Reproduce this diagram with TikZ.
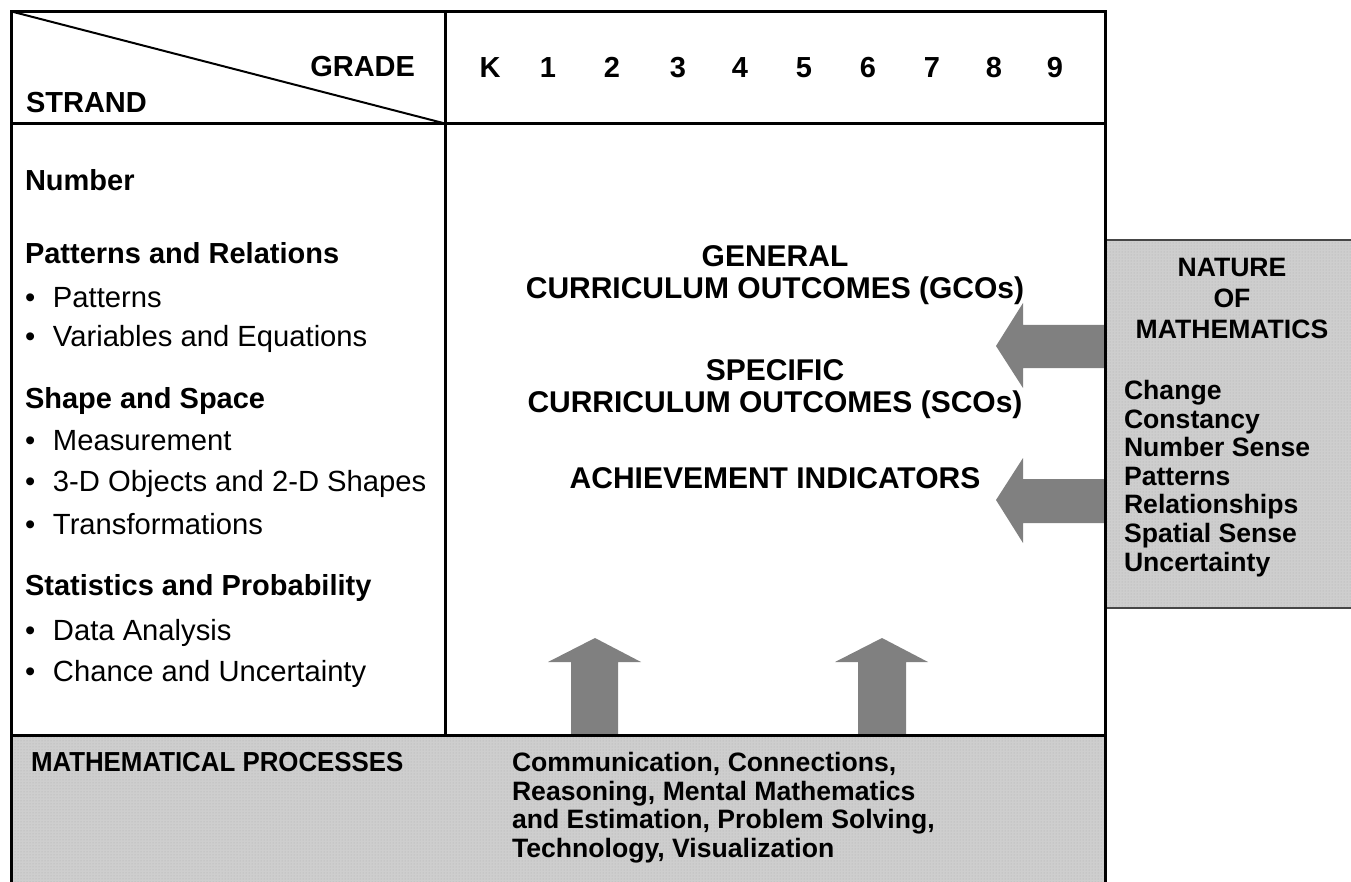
\documentclass[tikz,border=0pt]{standalone}
\usepackage{fontspec}
\setmainfont{Liberation Sans}
\usetikzlibrary{patterns}
\definecolor{boxgray}{RGB}{206,206,206}
\definecolor{dotgray}{RGB}{175,175,175}
\definecolor{arrowgray}{RGB}{128,128,128}
\definecolor{edgegray}{RGB}{70,70,70}
\newcommand\hdfont{\fontsize{29}{34}\selectfont\bfseries}
\newcommand\bulfont{\fontsize{29.2}{34}\selectfont}
\newcommand\ctrfont{\fontsize{30}{34}\selectfont\bfseries}
\newcommand\natfont{\fontsize{26.6}{30}\selectfont\bfseries}
\newcommand\botfont{\fontsize{26.6}{30}\selectfont\bfseries}
\begin{document}
\begin{tikzpicture}[x=1pt,y=-1pt,
  tbl/.style={line width=3pt, black, line join=miter},
  txt/.style={inner sep=0pt, outer sep=0pt, anchor=base west},
  ctxt/.style={inner sep=0pt, outer sep=0pt, anchor=base},
  head/.style={txt, font=\hdfont},
  bul/.style={txt, font=\bulfont},
  ctr/.style={ctxt, font=\ctrfont},
  grd/.style={ctxt, font=\hdfont},
  nat/.style={ctxt, font=\natfont},
  natw/.style={txt, font=\natfont},
  bot/.style={txt, font=\botfont},
  panel/.style={fill=boxgray, postaction={pattern=dots, pattern color=dotgray}},
  blockarrow/.style={fill=arrowgray, draw=none}]
\useasboundingbox (0,0) rectangle (1351,882);

% grey panels
\path[panel] (1105,240) rectangle (1351,608);
\draw[line width=2pt, edgegray] (1105,240) -- (1351,240) (1105,608) -- (1351,608);
\path[panel] (10,735) rectangle (1105,882);

% block arrows
\coordinate (la1) at (996,346);
\coordinate (la2) at (996,500);
\coordinate (ua1) at (595,638);
\coordinate (ua2) at (882,638);
\fill[blockarrow] (la1) -- (1023,303) -- (1023,325) -- (1106,325) -- (1106,368) -- (1023,368) -- (1023,388) -- cycle;
\fill[blockarrow] (la2) -- (1023,458) -- (1023,479) -- (1106,479) -- (1106,523) -- (1023,523) -- (1023,543) -- cycle;
\fill[blockarrow] (ua1) -- (641,662) -- (618,662) -- (618,736) -- (571,736) -- (571,662) -- (548,662) -- cycle;
\fill[blockarrow] (ua2) -- (928,662) -- (906,662) -- (906,736) -- (858,736) -- (858,662) -- (835,662) -- cycle;

% table lines
\draw[tbl] (11.5,882) -- (11.5,11.5) -- (1105,11.5) -- (1105,882);
\draw[tbl] (11.5,123.5) -- (1105,123.5);
\draw[tbl] (11.5,735) -- (1105,735);
\draw[tbl] (445,11.5) -- (445,735);
\draw[line width=2pt] (11.5,11.5) -- (445,123.5);

% header
\node[head, anchor=base east] (grade) at (415,76.5) {GRADE};
\node[head] (strand) at (26,112.5) {STRAND};
\foreach \g/\x [count=\i] in {K/490,1/548,2/612,3/678,4/740,5/804,6/868,7/932,8/994,9/1055}
  \node[grd] (g\i) at (\x,77.5) {\g};

% strands
\node[head] (number) at (25,190.5) {Number};
\node[head] (pr) at (25,263.5) {Patterns and Relations};
\node[bul] (pr1) at (25,308) {\makebox[28pt][l]{\textbullet}Patterns};
\node[bul] (pr2) at (25,346) {\makebox[28pt][l]{\textbullet}Variables and Equations};
\node[head] (ss) at (25,408.5) {Shape and Space};
\node[bul] (ss1) at (25,450.5) {\makebox[28pt][l]{\textbullet}Measurement};
\node[bul] (ss2) at (25,491.5) {\makebox[28pt][l]{\textbullet}3-D Objects and 2-D Shapes};
\node[bul] (ss3) at (25,534) {\makebox[28pt][l]{\textbullet}Transformations};
\node[head] (sp) at (25,595.5) {Statistics and Probability};
\node[bul] (sp1) at (25,640) {\makebox[28pt][l]{\textbullet}Data Analysis};
\node[bul] (sp2) at (25,681.5) {\makebox[28pt][l]{\textbullet}Chance and Uncertainty};

% outcomes
\node[ctr] (gco1) at (775,267) {GENERAL};
\node[ctr] (gco2) at (775,299) {CURRICULUM OUTCOMES (GCOs)};
\node[ctr] (sco1) at (775,380) {SPECIFIC};
\node[ctr] (sco2) at (775,412) {CURRICULUM OUTCOMES (SCOs)};
\node[ctr] (ai) at (775,488) {ACHIEVEMENT INDICATORS};

% nature of mathematics
\node[nat] (nat1) at (1232,277) {NATURE};
\node[nat] (nat2) at (1232,308) {OF};
\node[nat] (nat3) at (1232,338) {MATHEMATICS};
\foreach \w [count=\i] in {Change,Constancy,Number Sense,Patterns,Relationships,Spatial Sense,Uncertainty}
  \node[natw] (nw\i) at (1124,{399.5+28.6*(\i-1)}) {\w};

% processes
\node[bot] (mp) at (31,771.5) {\scalebox{0.94}[1]{\fontsize{27.5}{30}\selectfont MATHEMATICAL PROCESSES}};
\node[bot] (mp1) at (512,771.5) {Communication, Connections,};
\node[bot] (mp2) at (512,800) {Reasoning, Mental Mathematics};
\node[bot] (mp3) at (512,828.5) {and Estimation, Problem Solving,};
\node[bot] (mp4) at (512,857) {Technology, Visualization};
\end{tikzpicture}
\end{document}
